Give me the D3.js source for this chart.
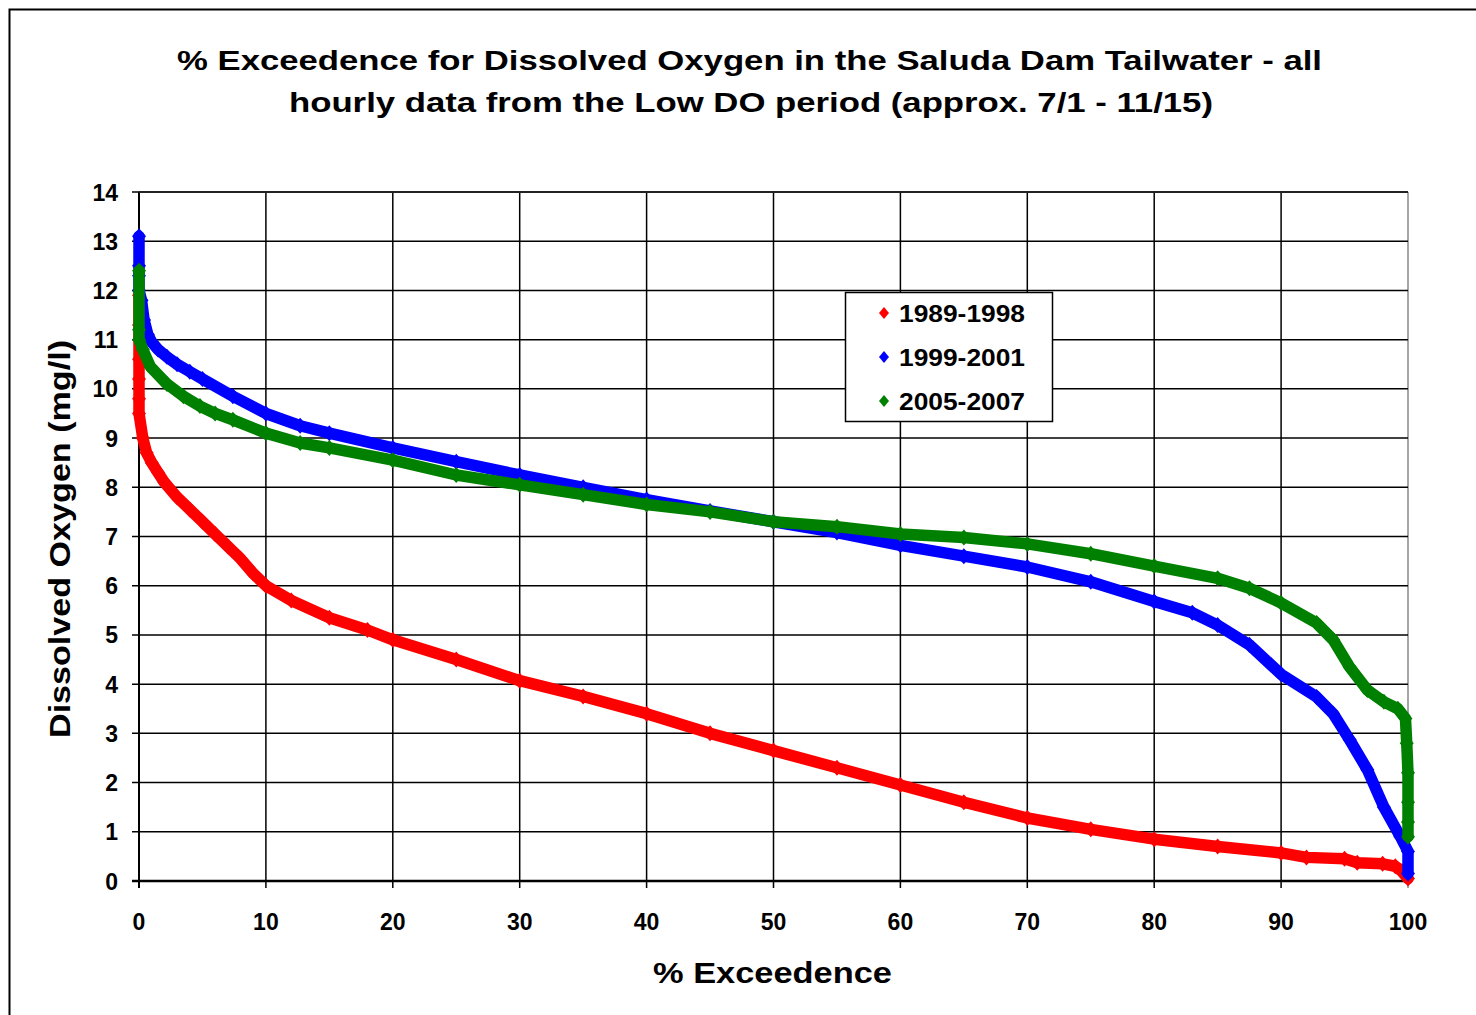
<!DOCTYPE html>
<html><head><meta charset="utf-8">
<script src="https://cdn.jsdelivr.net/npm/d3@7"></script>
<style>body{margin:0;background:#fff}svg{display:block}text{font-family:"Liberation Sans",Arial,sans-serif;font-weight:bold;fill:#000}</style>
</head><body>
<svg id="c" width="1476" height="1015"></svg>
<script>
const titleLines = ["% Exceedence for Dissolved Oxygen in the Saluda Dam Tailwater - all", "hourly data from the Low DO period (approx. 7/1 - 11/15)"];
const xTicks = [0,10,20,30,40,50,60,70,80,90,100];
const yTicks = [0,1,2,3,4,5,6,7,8,9,10,11,12,13,14];
const seriesNames = ["1989-1998","1999-2001","2005-2007"];
const seriesColors = ["#ff0000","#0000ff","#008000"];

const redX = [0,0,0,0,0,0,0.3,0.6,1,1.5,2,3,4,5,6,7,8,9,10,12,15,18,20,25,30,35,40,45,50,55,60,65,70,75,80,85,90,92,95,96,98,99,99.5,100];
const redY = [11.9,11.3,10.6,10.2,9.8,9.5,9.0,8.7,8.5,8.3,8.1,7.8,7.55,7.3,7.05,6.8,6.55,6.25,6.0,5.7,5.35,5.1,4.9,4.5,4.07,3.75,3.4,3.0,2.65,2.3,1.95,1.6,1.28,1.05,0.85,0.7,0.57,0.48,0.45,0.37,0.35,0.3,0.2,0.05];

const blueX = [0,0,0,0,0.2,0.4,0.7,1,1.5,2.2,3,4,5,7.4,10,12.7,15,20,25,30,35,40,45,50,55,60,65,70,75,80,83,85,87.5,90,92.8,94.1,95.4,96.8,98.1,99.4,100,100];
const blueY = [13.1,12.5,12.3,12.0,11.8,11.4,11.1,10.95,10.8,10.65,10.5,10.35,10.2,9.85,9.5,9.25,9.1,8.8,8.52,8.25,8.0,7.75,7.52,7.3,7.08,6.82,6.6,6.38,6.08,5.68,5.45,5.2,4.8,4.2,3.74,3.4,2.87,2.26,1.5,0.9,0.6,0.15];

const greenX = [0,0,0,0.3,0.9,2.2,3.5,4.8,6,7.4,10,12.7,15,20,25,30,35,40,45,50,55,60,65,70,75,80,85,87.5,90,92.8,94.1,95.4,96.8,98.1,99.2,99.8,99.9,100,100,100,100];
const greenY = [12.4,11.2,11.0,10.8,10.45,10.1,9.85,9.65,9.5,9.37,9.1,8.9,8.8,8.55,8.25,8.05,7.85,7.65,7.5,7.3,7.2,7.05,6.98,6.85,6.65,6.4,6.15,5.95,5.65,5.24,4.9,4.35,3.88,3.64,3.5,3.3,2.8,2.2,1.6,1.2,0.9];

const svg = d3.select("#c");
const L=139, R=1408, T=192, B=881;
const x = d3.scaleLinear().domain([0,100]).range([L,R]);
const y = d3.scaleLinear().domain([0,14]).range([B,T]);

// outer frame
svg.append("rect").attr("x",9.5).attr("y",9.5).attr("width",1500).attr("height",1100)
  .attr("fill","#fff").attr("stroke","#000").attr("stroke-width",2);

// title
titleLines.forEach((t,i)=>{
  svg.append("text").attr("x",i?751:749.5).attr("y",i?112:70).attr("text-anchor","middle")
    .attr("font-size",28).attr("textLength",i?924:1145).attr("lengthAdjust","spacingAndGlyphs").text(t);
});

// gridlines
const g = svg.append("g");
g.selectAll(".gx").data(xTicks).enter().append("line")
  .attr("x1",d=>x(d)).attr("x2",d=>x(d)).attr("y1",T).attr("y2",B+7)
  .attr("stroke",d=>d===100?"#888":"#000").attr("stroke-width",1.5);
g.selectAll(".gy").data(yTicks).enter().append("line")
  .attr("x1",L-7).attr("x2",R).attr("y1",d=>y(d)).attr("y2",d=>y(d))
  .attr("stroke","#000").attr("stroke-width",1.5);
g.append("line").attr("x1",L).attr("x2",L).attr("y1",T).attr("y2",B+7).attr("stroke","#000").attr("stroke-width",2);
g.append("line").attr("x1",L-7).attr("x2",R).attr("y1",B).attr("y2",B).attr("stroke","#000").attr("stroke-width",2.5);
g.append("line").attr("x1",L).attr("x2",R).attr("y1",T).attr("y2",T).attr("stroke","#222").attr("stroke-width",2);

// tick labels
svg.selectAll(".yl").data(yTicks).enter().append("text")
  .attr("x",118).attr("y",d=>y(d)+8.5).attr("text-anchor","end").attr("font-size",23).text(d=>d);
svg.selectAll(".xl").data(xTicks).enter().append("text")
  .attr("x",d=>x(d)).attr("y",930).attr("text-anchor","middle").attr("font-size",23).text(d=>d);

// axis titles
svg.append("text").attr("x",772.5).attr("y",983).attr("text-anchor","middle").attr("font-size",30)
  .attr("textLength",239).attr("lengthAdjust","spacingAndGlyphs").text("% Exceedence");
svg.append("text").attr("transform","translate(70,539) rotate(-90)").attr("text-anchor","middle").attr("font-size",30)
  .attr("textLength",398).attr("lengthAdjust","spacingAndGlyphs").text("Dissolved Oxygen (mg/l)");

// series
const series = [[redX,redY],[blueX,blueY],[greenX,greenY]];
const diamond = "M0,-8L7,0L0,8L-7,0Z";
const line = d3.line().x(d=>x(d[0])).y(d=>y(d[1]));
series.forEach((s,i)=>{
  const pts = s[0].map((v,k)=>[v,s[1][k]]);
  const sg = svg.append("g");
  sg.append("path").attr("d",line(pts)).attr("fill","none").attr("stroke",seriesColors[i])
    .attr("stroke-width",11.5).attr("stroke-linejoin","round").attr("stroke-linecap","round");
  sg.selectAll("path.m").data(pts).enter().append("path").attr("class","m")
    .attr("d",diamond).attr("transform",d=>`translate(${x(d[0])},${y(d[1])})`).attr("fill",seriesColors[i]);
});

// legend
const lg = svg.append("g");
lg.append("rect").attr("x",845.5).attr("y",292.5).attr("width",207).attr("height",129)
  .attr("fill","#fff").attr("stroke","#000").attr("stroke-width",1.5);
seriesNames.forEach((n,i)=>{
  const cy = 313 + i*44;
  lg.append("path").attr("d","M0,-6L5,0L0,6L-5,0Z").attr("transform",`translate(884,${cy})`).attr("fill",seriesColors[i]);
  lg.append("text").attr("x",899).attr("y",cy+9).attr("font-size",24).attr("textLength",126).attr("lengthAdjust","spacingAndGlyphs").text(n);
});
</script>
</body></html>
